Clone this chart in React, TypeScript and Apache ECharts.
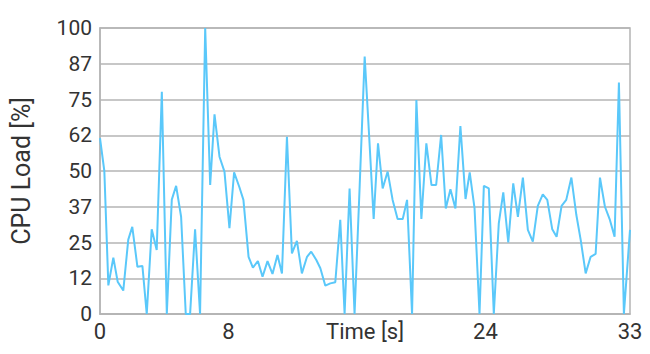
import React, { useEffect, useRef } from "react";
import * as echarts from "echarts";

const timeS: number[] = [
  0, 0.27, 0.52, 0.83, 1.1, 1.45, 1.76, 2.01, 2.33, 2.64, 2.91, 3.22, 3.53, 3.85, 4.16, 4.47, 4.74, 5.05, 5.34, 5.61,
  5.92, 6.23, 6.55, 6.86, 7.13, 7.44, 7.75, 8.06, 8.35, 8.67, 8.93, 9.25, 9.52, 9.83, 10.12, 10.43, 10.74, 11.05,
  11.33, 11.64, 11.95, 12.26, 12.57, 12.89, 13.15, 13.47, 13.72, 14.03, 14.34, 14.65, 14.96, 15.23, 15.54, 15.85,
  16.17, 16.48, 16.77, 17.04, 17.31, 17.6, 17.91, 18.22, 18.53, 18.85, 19.12, 19.43, 19.7, 20.01, 20.32, 20.64,
  20.93, 21.24, 21.53, 21.82, 22.13, 22.44, 22.76, 23.02, 23.32, 23.63, 23.9, 24.21, 24.52, 24.83, 25.11, 25.42,
  25.73, 26.02, 26.33, 26.64, 26.95, 27.26, 27.57, 27.85, 28.16, 28.43, 28.74, 29.03, 29.35, 29.66, 29.93, 30.24,
  30.55, 30.86, 31.13, 31.44, 31.75, 32.04, 32.31, 32.62, 33.0,
];

const cpuLoad: number[] = [
  61.5, 50, 10, 19.7, 11.3, 8.2, 26, 30.5, 16.5, 16.8, 0, 29.6, 22.4, 77.7, 0, 40, 44.8, 34, 0, 0,
  29.6, 0, 100, 45.1, 69.8, 55, 49.8, 30, 49.5, 44.5, 39.9, 20, 16.2, 18.5, 13, 18.5, 14, 20.6,
  14.2, 62, 21.2, 25.6, 14.2, 20, 21.8, 18.9, 16, 9.9, 10.7, 11.1, 32.9, 0, 43.9, 0,
  45, 90, 61, 33.2, 59.7, 43.9, 49.8, 39.9, 33.2, 33.2, 39.9, 0, 74.8, 33.2, 59.7, 45.1,
  45.1, 62.6, 36.9, 43.6, 36.9, 65.7, 40.2, 49.5, 37, 0, 44.8, 43.9, 0, 31.7, 42.5, 25,
  45.7, 34, 47.7, 29.4, 25.3, 37.8, 41.8, 39.9, 29.6, 27, 37.8, 39.9, 47.7, 34.6, 25.9, 14.2,
  20, 21, 47.7, 37.5, 32.9, 27, 80.9, 0, 29.4,
];

const xTickLabels: number[] = [0, 8, 24, 33];
const yTickValues: number[] = [0, 12.5, 25, 37.5, 50, 62.5, 75, 87.5, 100];

export default function App() {
  const ref = useRef<HTMLDivElement>(null);
  useEffect(() => {
    if (!ref.current) return;
    const chart = echarts.init(ref.current, undefined, { renderer: "svg" });
    const gray = "#b4b4b4";
    const textColor = "#333333";
    const font = "Roboto";
    chart.setOption({
      animation: false,
      grid: {
        left: 100,
        right: 20,
        top: 28,
        bottom: 40,
        show: true,
        borderColor: gray,
        borderWidth: 1.5,
        backgroundColor: "transparent",
        containLabel: false,
        outerBoundsMode: "none",
      },
      xAxis: {
        type: "value",
        min: 0,
        max: 33,
        interval: 8,
        name: "Time [s]",
        nameLocation: "middle",
        nameGap: 6,
        nameMoveOverlap: false,
        nameTextStyle: { fontSize: 22, color: textColor, fontFamily: font, verticalAlign: "top" },
        axisLine: { show: true, lineStyle: { color: gray, width: 1.5 } },
        axisTick: { show: false },
        splitLine: { show: false },
        axisLabel: {
          customValues: xTickLabels,
          fontSize: 22,
          color: textColor,
          fontFamily: font,
          margin: 6,
          formatter: (v: number) => (xTickLabels.indexOf(v) >= 0 ? String(v) : ""),
        },
      },
      yAxis: {
        type: "value",
        min: 0,
        max: 100,
        interval: 12.5,
        name: "CPU Load [%]",
        nameLocation: "middle",
        nameGap: 66,
        nameMoveOverlap: false,
        nameTextStyle: { fontSize: 25, color: textColor, fontFamily: font },
        axisLine: { show: true, lineStyle: { color: gray, width: 1.5 } },
        axisTick: { show: false },
        splitLine: { show: true, lineStyle: { color: gray, width: 1.5 } },
        axisLabel: {
          fontSize: 21,
          color: textColor,
          fontFamily: font,
          margin: 8,
          formatter: (v: number) => (yTickValues.indexOf(v) >= 0 ? String(Math.floor(v)) : ""),
        },
      },
      series: [
        {
          type: "line",
          data: timeS.map((t, i) => [t, cpuLoad[i]]),
          showSymbol: false,
          symbol: "none",
          lineStyle: { color: "#5AC8FA", width: 2 },
          clip: true,
        },
      ],
    });
    return () => chart.dispose();
  }, []);
  return <div ref={ref} style={{ width: 650, height: 354, position: "absolute", left: 0, top: 0 }} />;
}
